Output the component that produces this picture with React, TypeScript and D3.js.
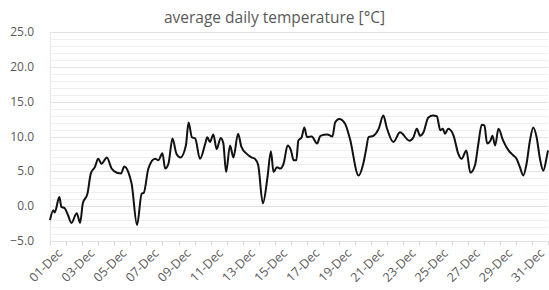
import React, { useEffect, useRef } from 'react';
import * as d3 from 'd3';

// hours since 01-Dec 00:00
const hours = [
  0, 5, 7, 14, 17, 22, 27, 32, 40, 45, 49, 56, 61, 67, 72, 77, 85, 92, 100, 106,
  111, 117, 122, 130, 137, 140, 147, 157, 162, 168, 172, 177, 183, 189, 195, 203, 207, 212, 217, 224,
  232, 235, 239, 244, 249, 255, 259, 263, 269, 274, 281, 286, 294, 301, 306, 311, 318, 325, 330, 334,
  339, 344, 349, 355, 360, 364, 368, 371, 376, 380, 384, 391, 399, 404, 414, 422, 426, 432, 441, 448,
  461, 468, 472, 476, 483, 491, 498, 503, 513, 523, 537, 543, 548, 553, 558, 565, 572, 578, 583, 587,
  590, 595, 603, 610, 615, 622, 628, 635, 640, 645, 649, 653, 658, 661, 665, 670, 677, 685, 692, 697,
  702, 707, 712, 717, 722, 727, 732, 737, 742, 744,
];

// temperature [°C]
const temps = [
  -2.0, -0.6, -0.9, 1.3, -0.1, -0.3, -1.3, -2.4, -1.0, -2.4, 0.4, 1.8, 4.7, 5.6, 6.8, 6.1, 7.0, 5.4, 4.8, 4.7,
  5.7, 4.9, 3.2, -2.7, 1.8, 1.9, 5.4, 6.8, 6.6, 7.6, 5.4, 6.1, 9.7, 7.5, 7.0, 8.7, 12.0, 9.9, 9.7, 6.8,
  9.0, 9.9, 9.2, 10.3, 8.2, 9.8, 9.0, 4.9, 8.7, 7.0, 10.4, 8.5, 7.5, 7.0, 6.8, 5.9, 0.4, 4.2, 7.9, 4.9,
  5.6, 5.4, 6.1, 8.7, 8.0, 6.6, 6.6, 9.4, 9.9, 11.3, 9.9, 10.0, 9.0, 10.1, 10.3, 10.0, 12.0, 12.5, 11.8, 9.7,
  4.4, 6.1, 8.0, 9.9, 10.1, 11.1, 13.0, 11.3, 9.2, 10.6, 9.4, 9.9, 11.1, 10.1, 10.6, 12.7, 13.0, 12.9, 10.9, 11.1,
  10.4, 11.1, 10.1, 7.5, 6.8, 8.0, 4.8, 5.9, 9.0, 11.7, 11.6, 9.0, 9.4, 10.1, 8.7, 11.1, 9.4, 8.0, 7.3, 6.8,
  5.6, 4.4, 6.1, 9.4, 11.3, 9.9, 6.8, 5.1, 7.0, 8.0,
];

const yTicks = [-5, 0, 5, 10, 15, 20, 25];
const title = 'average daily temperature [°C]';

const App: React.FC = () => {
  const svgRef = useRef<SVGSVGElement>(null);

  useEffect(() => {
    if (!svgRef.current) return;
    const width = 549;
    const height = 290;
    const margin = { top: 32, right: 1, bottom: 49, left: 50 };

    const svg = d3.select(svgRef.current);
    svg.selectAll('*').remove();
    svg.attr('width', width).attr('height', height);

    const start = new Date(Date.UTC(2020, 11, 1));
    const end = new Date(Date.UTC(2021, 0, 1));
    const data = hours.map((h, i) => ({ t: d3.utcHour.offset(start, h), v: temps[i] }));

    const x = d3.scaleUtc().domain([start, end]).range([margin.left, width - margin.right]);
    const y = d3.scaleLinear().domain([-5, 25]).range([height - margin.bottom, margin.top]);

    // background
    svg.append('rect').attr('width', width).attr('height', height).attr('fill', '#fff');

    // minor gridlines
    svg.append('g')
      .selectAll('line')
      .data(d3.range(-5, 25.01, 1).filter((d) => d % 5 !== 0))
      .join('line')
      .attr('x1', margin.left)
      .attr('x2', width - margin.right)
      .attr('y1', (d) => Math.round(y(d)) + 0.5)
      .attr('y2', (d) => Math.round(y(d)) + 0.5)
      .attr('stroke', '#efefef');

    // major gridlines
    svg.append('g')
      .selectAll('line')
      .data(yTicks)
      .join('line')
      .attr('x1', margin.left)
      .attr('x2', width - margin.right)
      .attr('y1', (d) => Math.round(y(d)) + 0.5)
      .attr('y2', (d) => Math.round(y(d)) + 0.5)
      .attr('stroke', '#e2e2e2');

    // y axis line
    svg.append('line')
      .attr('x1', margin.left + 0.5)
      .attr('x2', margin.left + 0.5)
      .attr('y1', y(25))
      .attr('y2', y(-5))
      .attr('stroke', '#e6e6e6');

    // y labels
    svg.append('g')
      .selectAll('text')
      .data(yTicks)
      .join('text')
      .attr('x', 34)
      .attr('y', (d) => y(d) + 4)
      .attr('text-anchor', 'end')
      .style('font-family', '"Open Sans", sans-serif')
      .style('font-size', '12px')
      .style('fill', '#595959')
      .text((d) => d3.format('.1f')(d));

    // x ticks (daily)
    const days = d3.utcDay.range(start, d3.utcDay.offset(end, 1));
    svg.append('g')
      .selectAll('line')
      .data(days)
      .join('line')
      .attr('x1', (d) => Math.round(x(d)) + 0.5)
      .attr('x2', (d) => Math.round(x(d)) + 0.5)
      .attr('y1', y(-5))
      .attr('y2', y(-5) + 4)
      .attr('stroke', '#d9d9d9');

    // x labels every 2 days
    const fmt = d3.utcFormat('%d-%b');
    const labelDays = d3.utcDay.range(start, end).filter((d, i) => i % 2 === 0);
    svg.append('g')
      .selectAll('text')
      .data(labelDays)
      .join('text')
      .attr('transform', (d) => `translate(${x(d) + 10},${y(-5) + 10}) rotate(-45)`)
      .attr('text-anchor', 'end')
      .attr('dy', '0.35em')
      .style('font-family', '"Open Sans", sans-serif')
      .style('font-size', '12.5px')
      .style('fill', '#595959')
      .text((d) => fmt(d));

    // line
    const line = d3.line<{ t: Date; v: number }>()
      .x((d) => x(d.t))
      .y((d) => y(d.v))
      .curve(d3.curveMonotoneX);

    svg.append('path')
      .datum(data)
      .attr('d', line)
      .attr('fill', 'none')
      .attr('stroke', '#111')
      .attr('stroke-width', 2)
      .attr('stroke-linejoin', 'round');

    // title
    svg.append('text')
      .attr('x', width / 2)
      .attr('y', 23)
      .attr('text-anchor', 'middle')
      .style('font-family', '"Open Sans", sans-serif')
      .style('font-size', '15.5px')
      .style('fill', '#595959')
      .text(title);
  }, []);

  return (
    <svg ref={svgRef} style={{ position: 'absolute', left: 0, top: 0, display: 'block' }}></svg>
  );
};

export default App;
